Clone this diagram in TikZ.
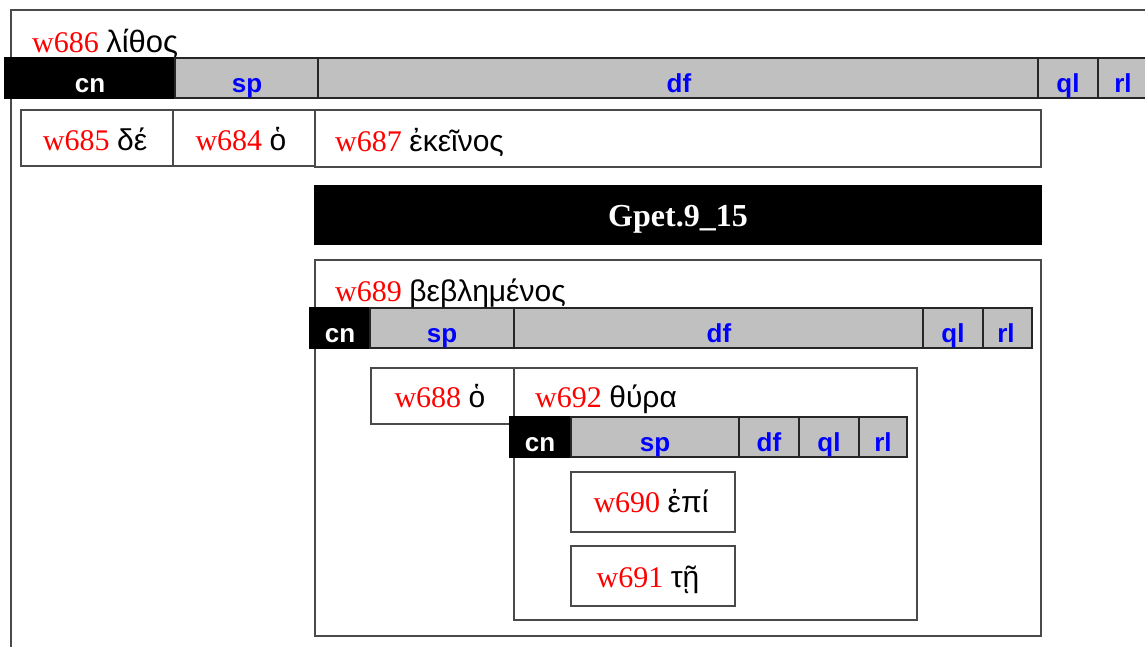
\documentclass[tikz,border=0pt]{standalone}
\usepackage{fontspec}
\setmainfont{Liberation Serif}
\newfontfamily\grk{Liberation Sans}
\newfontfamily\lbl{Liberation Sans}
\usetikzlibrary{fit}
\definecolor{cellgray}{HTML}{C0C0C0}
\definecolor{edge}{HTML}{4A4A4A}
\newcommand{\cellbox}[4]{\node[#1, fit={#3 #4}] (#2) {};}
\begin{document}
\begin{tikzpicture}[x=1pt,y=-1pt,
  box/.style={draw=edge, line width=1.3pt, fill=white, inner sep=0pt},
  bcell/.style={draw=black, line width=1.2pt, fill=black, inner sep=0pt},
  gcell/.style={draw=black!85, line width=1.2pt, fill=cellgray, inner sep=0pt},
  txt/.style={inner sep=0pt, font=\fontsize{30}{36}\selectfont},
  cnlab/.style={inner sep=0pt, anchor=base, text=white, font=\lbl\bfseries\fontsize{26}{31}\selectfont},
  rlab/.style={inner sep=0pt, anchor=base, text=blue, font=\lbl\bfseries\fontsize{26}{31}\selectfont},
  gp/.style={inner sep=0pt, anchor=base, text=white, font=\bfseries\fontsize{32}{38}\selectfont}]
\clip (0,0) rectangle (1145,646);
\fill[white] (0,0) rectangle (1145,646);
% outer frame
\cellbox{box}{outer}{(11,10)}{(1180,680)}
\node[txt, anchor=base west] (t686) at (32,52) {\textcolor{red}{w686} {\grk\fontsize{31}{36}\selectfont λίθος}};
% top bar
\cellbox{bcell}{cnA}{(5,58)}{(175,98)}
\cellbox{gcell}{spA}{(175,58)}{(318,98)}
\cellbox{gcell}{dfA}{(318,58)}{(1038,98)}
\cellbox{gcell}{qlA}{(1038,58)}{(1098,98)}
\cellbox{gcell}{rlA}{(1098,58)}{(1150,98)}
\node[cnlab] (lcnA) at (90,92) {cn};
\node[rlab] (lspA) at (247,92) {sp};
\node[rlab] (ldfA) at (679,92) {df};
\node[rlab] (lqlA) at (1068,92) {ql};
\node[rlab] (lrlA) at (1123,92) {rl};
% row of words
\cellbox{box}{b685}{(21,110)}{(173,166)}
\cellbox{box}{b684}{(173,110)}{(315,166)}
\cellbox{box}{b687}{(315,110)}{(1041,167)}
\node[txt, anchor=base] (t685) at (95,150) {\textcolor{red}{w685} {\grk δέ}};
\node[txt, anchor=base] (t684) at (241,150) {\textcolor{red}{w684} {\grk ὁ}};
\node[txt, anchor=base west] (t687) at (335,151) {\textcolor{red}{w687} {\grk ἐκεῖνος}};
% Gpet bar
\cellbox{bcell}{gpet}{(315,186)}{(1041,244)}
\node[gp] (tgpet) at (678,226) {Gpet.9\_15};
% w689 box
\cellbox{box}{b689}{(315,260)}{(1041,636)}
\node[txt, anchor=base west] (t689) at (335,301) {\textcolor{red}{w689} {\grk βεβλημένος}};
\cellbox{bcell}{cnB}{(310,308)}{(370,348)}
\cellbox{gcell}{spB}{(370,308)}{(514,348)}
\cellbox{gcell}{dfB}{(514,308)}{(923,348)}
\cellbox{gcell}{qlB}{(923,308)}{(983,348)}
\cellbox{gcell}{rlB}{(983,308)}{(1032,348)}
\node[cnlab] (lcnB) at (340,342) {cn};
\node[rlab] (lspB) at (442,342) {sp};
\node[rlab] (ldfB) at (719,342) {df};
\node[rlab] (lqlB) at (953,342) {ql};
\node[rlab] (lrlB) at (1006,342) {rl};
% inner words
\cellbox{box}{b688}{(371,368)}{(514,424)}
\node[txt, anchor=base] (t688) at (440,407) {\textcolor{red}{w688} {\grk ὁ}};
\cellbox{box}{b692}{(514,368)}{(917,620)}
\node[txt, anchor=base west] (t692) at (535,407) {\textcolor{red}{w692} {\grk θύρα}};
\cellbox{bcell}{cnC}{(510,417)}{(571,457)}
\cellbox{gcell}{spC}{(571,417)}{(739,457)}
\cellbox{gcell}{dfC}{(739,417)}{(799,457)}
\cellbox{gcell}{qlC}{(799,417)}{(859,457)}
\cellbox{gcell}{rlC}{(859,417)}{(907,457)}
\node[cnlab] (lcnC) at (540,451) {cn};
\node[rlab] (lspC) at (655,451) {sp};
\node[rlab] (ldfC) at (769,451) {df};
\node[rlab] (lqlC) at (829,451) {ql};
\node[rlab] (lrlC) at (883,451) {rl};
\cellbox{box}{b690}{(571,472)}{(735,532)}
\node[txt, anchor=base] (t690) at (651,512) {\textcolor{red}{w690} {\grk ἐπί}};
\cellbox{box}{b691}{(571,546)}{(735,606)}
\node[txt, anchor=base] (t691) at (648,587) {\textcolor{red}{w691} {\grk τῇ}};
\end{tikzpicture}
\end{document}
